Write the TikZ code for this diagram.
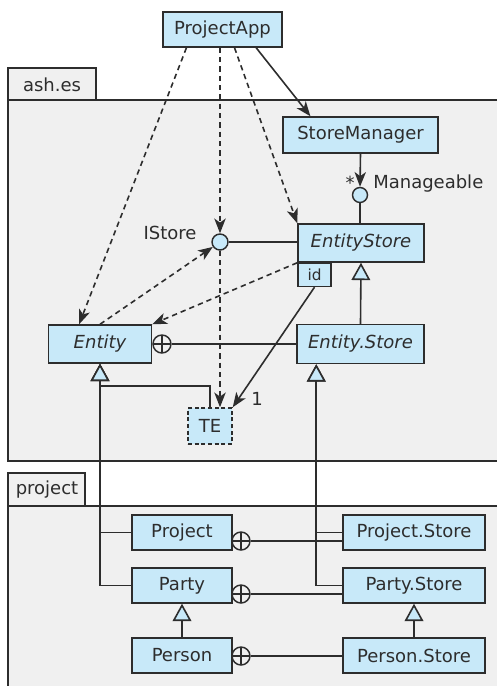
\documentclass[tikz,border=0pt]{standalone}
\usepackage{fontspec}
\setmainfont{DejaVu Sans}
\usetikzlibrary{arrows.meta,calc}
\definecolor{boxblue}{RGB}{200,233,249}
\definecolor{pkggray}{RGB}{240,240,240}
\definecolor{ink}{RGB}{45,45,45}
\tikzset{
  txt/.style={text=ink, font=\fontsize{13.5}{16}\selectfont},
  cls/.style={txt, draw=ink, fill=boxblue, line width=1.1pt, inner sep=0pt},
  lbl/.style={txt, inner sep=0pt},
  iface/.style={circle, draw=ink, fill=boxblue, line width=1.1pt, minimum size=12pt, inner sep=0pt},
  nest/.style={circle, draw=ink, fill=pkggray, line width=1.1pt, minimum size=13.5pt, inner sep=0pt,
    path picture={\draw[ink, line width=1.1pt] (path picture bounding box.north) -- (path picture bounding box.south)
      (path picture bounding box.west) -- (path picture bounding box.east);}},
  pkg/.style={draw=ink, fill=pkggray, line width=1.1pt},
  link/.style={draw=ink, line width=1.2pt},
  dep/.style={link, -{Stealth[length=11pt,width=8.5pt,inset=3pt]}},
  dashdep/.style={dep, dash pattern=on 4pt off 3pt},
  gen/.style={link, -{Triangle[length=13pt,width=14pt,fill=boxblue]}}
}
\begin{document}
\begin{tikzpicture}[x=0.75pt,y=0.75pt,yscale=-1,xscale=1]
    \useasboundingbox (0,0) rectangle (497,686);
    %Package: ash.es
    \draw[pkg] (8,68) rectangle (96,100);
    \fill[pkggray] (8,100) rectangle (497,461);
    \draw[link] (497,100) -- (8,100) -- (8,461) -- (497,461);
    \node[lbl] (ashlbl) at (52,85) {ash.es};
    %Package: project
    \draw[pkg] (8,473) rectangle (85,506);
    \fill[pkggray] (8,506) rectangle (497,686);
    \draw[link] (497,506) -- (8,506) -- (8,686);
    \node[lbl] (projlbl) at (47,490) {project};

    %Classes
    \node[cls, minimum width=89pt, minimum height=26.25pt] (app) at (222.5,29.5) {ProjectApp};
    \node[cls, minimum width=116.25pt, minimum height=27pt] (mgr) at (360.5,135) {StoreManager};
    \node[cls, minimum width=94.5pt, minimum height=28.5pt] (estore) at (361,243) {\itshape EntityStore};
    \node[cls, font=\fontsize{11.5}{14}\selectfont, minimum width=24.75pt, minimum height=17.25pt, anchor=north west] (idbox) at (estore.south west) {id};
    \node[cls, minimum width=77.25pt, minimum height=28.5pt] (entity) at (100,344) {\itshape Entity};
    \node[cls, minimum width=95.25pt, minimum height=29.25pt] (entstore) at (360.5,344) {\itshape Entity.Store};
    \node[cls, dash pattern=on 3pt off 2pt, minimum width=33pt, minimum height=27pt] (te) at (210,426) {TE};
    \node[cls, minimum width=75pt, minimum height=26.25pt] (project) at (182,532.5) {Project};
    \node[cls, minimum width=106.5pt, minimum height=26.25pt] (pstore) at (414,532.5) {Project.Store};
    \node[cls, minimum width=75pt, minimum height=26.25pt] (party) at (182,585.5) {Party};
    \node[cls, minimum width=106.5pt, minimum height=26.25pt] (partystore) at (414,585.5) {Party.Store};
    \node[cls, minimum width=75pt, minimum height=26.25pt] (person) at (182,655.5) {Person};
    \node[cls, minimum width=106.5pt, minimum height=26.25pt] (personstore) at (414,655.5) {Person.Store};

    %Interfaces
    \node[iface] (istore) at (220,242) {};
    \node[lbl] (istorelbl) at (170,233) {IStore};
    \node[iface, minimum size=11.25pt] (mmc) at (360,195) {};
    \node[lbl, anchor=west] (mmclbl) at (373,184) {Manageable};
    \node[lbl] (star) at (350,183) {*};
    \node[lbl] (one) at (257,399) {1};

    %Nesting
    \node[nest, anchor=west] (nest1) at (entity.east) {};
    \node[nest] (nest2) at (241,541) {};
    \node[nest] (nest3) at (241,594) {};
    \node[nest] (nest4) at (241,656) {};

    %Dependencies
    \draw[dashdep] ($(app.south west)!0.2!(app.south east)$) -- ($(entity.north west)!0.3!(entity.north east)$);
    \draw[dashdep] (app.south -| istore) -- (istore);
    \draw[dashdep] ($(app.south west)!0.6!(app.south east)$) -- (estore.north west);
    \draw[dep] ($(app.south west)!0.78!(app.south east)$) -- ($(mgr.north west)!0.18!(mgr.north east)$);
    \draw[dep] (mgr.south) -- (mmc.north);
    \draw[link] (mmc.south) -- (mmc |- estore.north);
    \draw[link] (istore.east) -- (istore -| estore.west);
    \draw[dashdep] (entity.north) -- (istore);
    \draw[dashdep] (estore.south west) -- (entity.north east);
    \draw[dashdep] (istore.south) -- (istore |- te.north);
    \draw[dep] (idbox.south) -- (te.north east);
    \draw[link] (nest1.east -| entstore.west) -- (nest1.east);

    %Generalizations
    \coordinate (esbase) at ([xshift=15pt]entstore.south west);
    \draw[gen] (entstore.north) -- (estore.south);
    \draw[gen] (te.north) -- ++(0,-21) -| (entity.south);
    \draw[gen] (project.west) -| (entity.south);
    \draw[gen] (party.west) -| (entity.south);
    \draw[gen] (pstore.west) -| (esbase);
    \draw[gen] (partystore.west) -| (esbase);
    \draw[gen] (person.north) -- (party.south);
    \draw[gen] (personstore.north) -- (partystore.south);

    %Nested stores
    \draw[link] (nest2.east) -- (nest2.east -| pstore.west);
    \draw[link] (nest3.east) -- (nest3.east -| partystore.west);
    \draw[link] (nest4.east) -- (nest4.east -| personstore.west);
\end{tikzpicture}
\end{document}
